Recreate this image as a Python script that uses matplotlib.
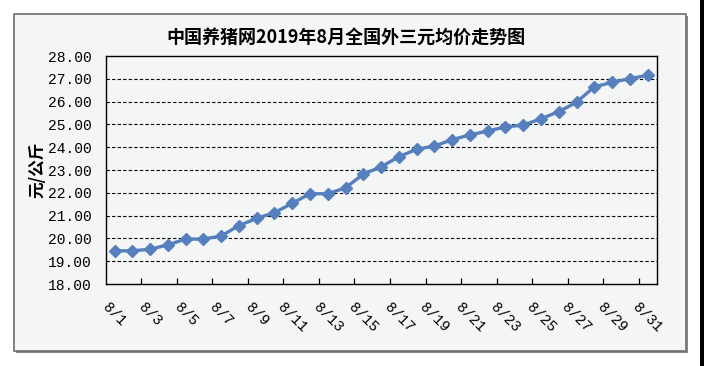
import numpy as np
import matplotlib
matplotlib.use("Agg")
import matplotlib.pyplot as plt
from matplotlib.patches import Rectangle
from matplotlib.ticker import FixedLocator, FormatStrFormatter

# data
days = ["8/%d" % d for d in range(1, 32)]
prices = [19.45, 19.46, 19.52, 19.72, 19.97, 19.97, 20.11, 20.56, 20.88, 21.13,
          21.54, 21.96, 21.96, 22.22, 22.82, 23.14, 23.58, 23.91, 24.05, 24.33,
          24.54, 24.71, 24.89, 24.97, 25.25, 25.56, 25.97, 26.65, 26.84, 27.01,
          27.15]
title = "中国养猪网2019年8月全国外三元均价走势图"
ylabel = "元/公斤"

W, H = 704, 366
bg = "#F4F5F5"
line_color = "#5580BD"
tick_font = "Liberation Mono"
cjk_font = ["Noto Sans CJK SC", "DejaVu Sans"]

fig = plt.figure(figsize=(W / 100, H / 100), dpi=100)
fig.patch.set_facecolor("white")

# outer chart frame with a small shadow
fig.patches.append(Rectangle((16 / W, 1 - 353 / H), 672 / W, 337 / H,
                             transform=fig.transFigure, facecolor="#8a8a8a",
                             edgecolor="none", zorder=-2))
fig.patches.append(Rectangle((14 / W, 1 - 351 / H), 672 / W, 337 / H,
                             transform=fig.transFigure, facecolor=bg,
                             edgecolor="#6e6e6e", linewidth=1.2, zorder=-1))
# dark strip on the right edge of the screenshot
fig.patches.append(Rectangle((700 / W, 0), 4 / W, 1, transform=fig.transFigure,
                             facecolor="black", edgecolor="none", zorder=-1))

ax = fig.add_axes([105.7 / W, 1 - 284 / H, 550.8 / W, 228 / H])
ax.set_zorder(2)
ax.set_facecolor(bg)

x = np.arange(len(days))
ax.plot(x, prices, color=line_color, linewidth=2.4, marker="D",
        markersize=6.3, markerfacecolor=line_color, markeredgecolor=line_color,
        zorder=3, clip_on=False)

ax.set_xlim(-0.5, len(days) - 0.5)
ax.set_ylim(18, 28)

# y axis
ax.yaxis.set_major_locator(FixedLocator(np.arange(18, 29, 1)))
ax.yaxis.set_major_formatter(FormatStrFormatter("%.2f"))
ax.tick_params(axis="y", length=0, pad=10)
for lab in ax.get_yticklabels():
    lab.set_fontfamily(tick_font)
    lab.set_fontsize(10.5)
for v in range(19, 28):
    ax.axhline(v, color="black", linewidth=0.8, linestyle=(0, (3, 2)), zorder=1)

# x axis: labels every other day, tick marks between categories
ax.set_xticks(x[::2])
ax.set_xticklabels(days[::2], rotation=-45, ha="center", va="top",
                   fontfamily=tick_font, fontsize=10.5)
ax.set_xticks(np.arange(1.5, len(days) - 1, 2), minor=True)
ax.tick_params(axis="x", which="major", length=0, pad=12)
ax.tick_params(axis="x", which="minor", direction="in", length=4.5,
               width=0.9, color="black")

for sp in ax.spines.values():
    sp.set_color("black")
    sp.set_linewidth(1.0)

fig.text(346 / W, 1 - 37 / H, title, ha="center", va="center",
         fontsize=13, fontweight="bold", family=cjk_font)
fig.text(37 / W, 1 - 170 / H, ylabel, ha="center", va="center", rotation=90,
         fontsize=12, fontweight="bold", family=cjk_font)

fig.savefig("out.png", dpi=100, facecolor="white")
